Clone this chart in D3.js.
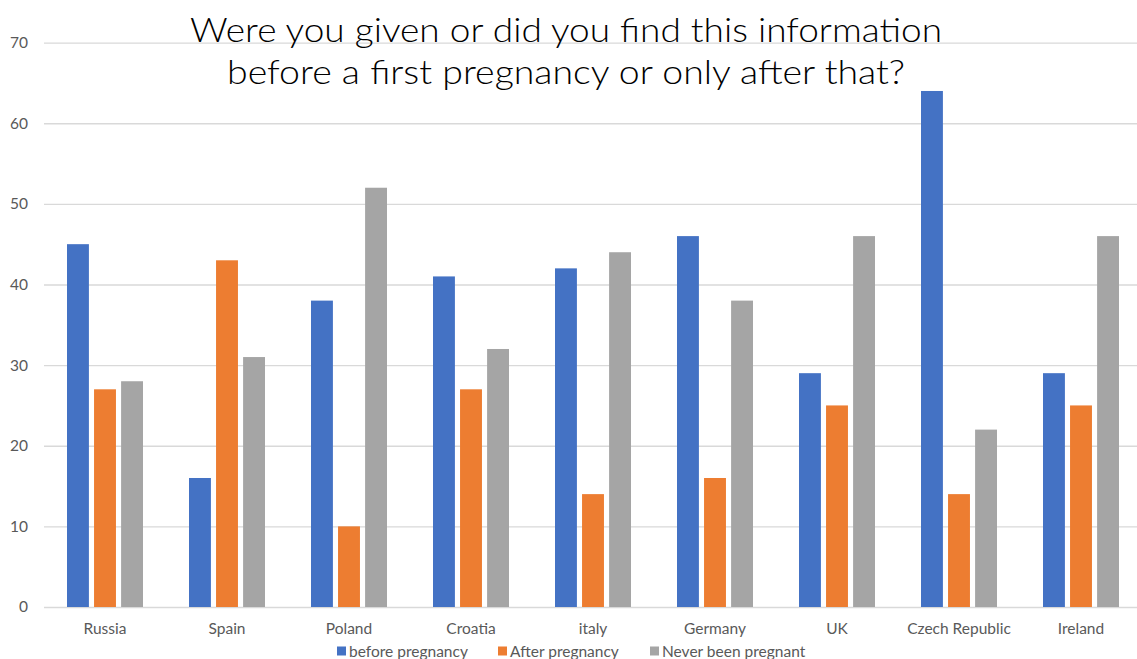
<!DOCTYPE html>
<html>
<head>
<meta charset="utf-8">
<script src="https://cdn.jsdelivr.net/npm/d3@7"></script>
<style>
  html, body { margin: 0; padding: 0; background: #fff; }
  svg { display: block; }
</style>
</head>
<body>
<svg id="chart" width="1137" height="659"></svg>
<script>
// Survey answers per country (percent)
const categories = ["Russia", "Spain", "Poland", "Croatia", "italy", "Germany", "UK", "Czech Republic", "Ireland"];
const seriesNames = ["before pregnancy", "After pregnancy", "Never been pregnant"];
const beforePregnancy = [45, 16, 38, 41, 42, 46, 29, 64, 29];
const afterPregnancy  = [27, 43, 10, 27, 14, 16, 25, 14, 25];
const neverPregnant   = [28, 31, 52, 32, 44, 38, 46, 22, 46];
const yTicks = [0, 10, 20, 30, 40, 50, 60, 70];
const titleLines = ["Were you given or did you find this information", "before a first pregnancy or only after that?"];
const colors = ["#4472C4", "#ED7D31", "#A5A5A5"];

const seriesValues = [beforePregnancy, afterPregnancy, neverPregnant];
const rows = categories.map((c, i) => ({
  category: c,
  values: seriesNames.map((s, k) => ({ series: s, value: seriesValues[k][i], k }))
}));

const svg = d3.select("#chart");
const plot = { left: 44, right: 1142, top: 42.6, bottom: 607 };

const x = d3.scaleBand().domain(categories).range([plot.left, plot.right]).padding(0);
const groupWidth = 76;
const xs = d3.scaleBand().domain(seriesNames).range([0, groupWidth]).paddingInner(0.19);
const y = d3.scaleLinear().domain([0, 70]).range([plot.bottom, plot.top]);

const font = "Lato, 'Open Sans', 'Liberation Sans', sans-serif";
const labelSize = 15.5;

// Horizontal gridlines
const yAxis = d3.axisLeft(y).tickValues(yTicks).tickSize(-(plot.right - plot.left)).tickPadding(16);
const gy = svg.append("g").attr("transform", `translate(${plot.left},0)`).call(yAxis);
gy.select(".domain").remove();
gy.selectAll(".tick line").attr("stroke", "#D9D9D9").attr("stroke-width", 1.3);
gy.selectAll(".tick text")
  .attr("fill", "#595959")
  .attr("font-family", font)
  .attr("font-size", labelSize);

// Bars
const groups = svg.append("g").selectAll("g")
  .data(rows)
  .join("g")
  .attr("transform", d => `translate(${x(d.category) + (x.bandwidth() - groupWidth) / 2},0)`);

groups.selectAll("rect")
  .data(d => d.values)
  .join("rect")
  .attr("x", d => xs(d.series))
  .attr("width", xs.bandwidth())
  .attr("y", d => y(d.value))
  .attr("height", d => y(0) - y(d.value))
  .attr("fill", d => colors[d.k]);

// Category axis
const xAxis = d3.axisBottom(x).tickSize(0).tickPadding(16);
const gx = svg.append("g").attr("transform", `translate(0,${plot.bottom})`).call(xAxis);
gx.select(".domain").remove();
gx.selectAll(".tick text")
  .attr("fill", "#595959")
  .attr("font-family", font)
  .attr("font-size", labelSize);

// Title
const title = svg.append("g");
titleLines.forEach((t, i) => {
  title.append("text")
    .attr("x", 566)
    .attr("y", 42 + i * 42)
    .attr("text-anchor", "middle")
    .attr("font-family", font)
    .attr("font-weight", 300)
    .attr("font-size", 34)
    .attr("fill", "#000")
    .attr("textLength", i === 0 ? 752 : 678)
    .attr("lengthAdjust", "spacingAndGlyphs")
    .text(t);
});

// Legend
const legendX = [337, 498, 650];
const legend = svg.append("g").attr("transform", "translate(0,651)");
seriesNames.forEach((s, k) => {
  const g = legend.append("g").attr("transform", `translate(${legendX[k]},0)`);
  g.append("rect").attr("x", 0).attr("y", -4.5).attr("width", 9).attr("height", 9).attr("fill", colors[k]);
  g.append("text")
    .attr("x", 12)
    .attr("y", 5.5)
    .attr("fill", "#595959")
    .attr("font-family", font)
    .attr("font-size", labelSize)
    .text(s);
});
</script>
</body>
</html>
